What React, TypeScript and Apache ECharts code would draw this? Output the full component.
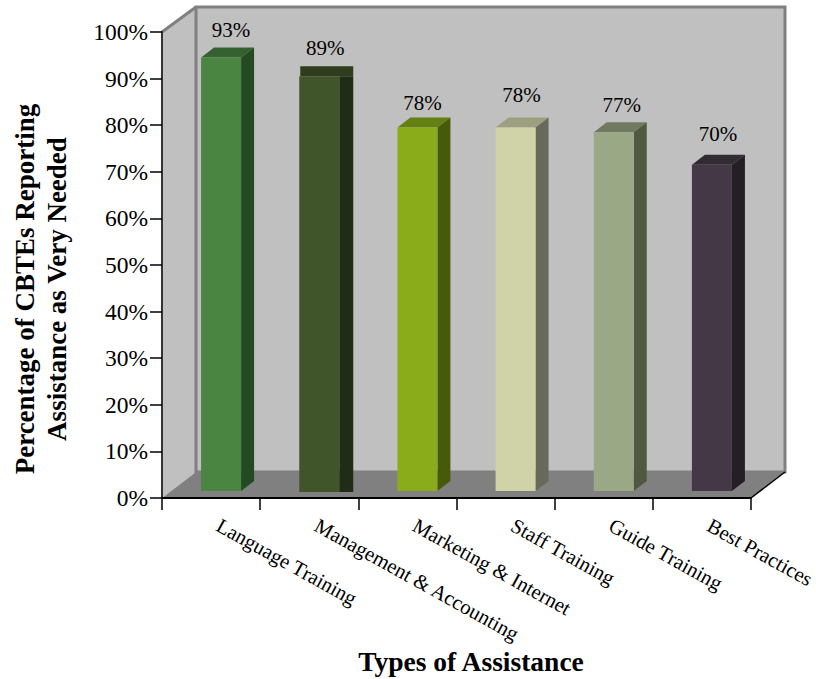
import React, { useEffect, useRef } from "react";
import * as echarts from "echarts";

const categories = [
  "Language Training",
  "Management & Accounting",
  "Marketing & Internet",
  "Staff Training",
  "Guide Training",
  "Best Practices",
];
const veryNeeded = [93, 89, 78, 78, 77, 70];
const yTicks = [0, 10, 20, 30, 40, 50, 60, 70, 80, 90, 100];

const faceColors = ["#4A8541", "#41552B", "#8BAC1A", "#D0D3A8", "#9BA886", "#443746"];
const topColors = ["#356030", "#2F3D1E", "#648012", "#9C9F80", "#717A60", "#332B33"];
const sideColors = ["#234A20", "#202C15", "#475A0A", "#67695A", "#50583F", "#231F25"];
// The second column is drawn with flat, unslanted top and side panels.
const slanted = [true, false, true, true, true, true];
const labelShiftX = [20, 16, 15, 16, 18, 16];
const labelShiftY = [-35, -35, -32, -40, -34, -38];

const SERIF = '"Liberation Serif", "Times New Roman", serif';
const GRID = { left: 162, top: 32, right: 751, bottom: 498 };
const WALL = { dx: 34, dy: -26 };
const BAR_WIDTH = 40;
const DEPTH = { dx: 13, dy: -10 };

function renderColumn(params: any, api: any) {
  const i = api.value(0);
  const value = api.value(1);
  const [cx, yTop] = api.coord([i, value]);
  const [, yBase] = api.coord([i, 0]);
  const x0 = cx + 10 - BAR_WIDTH / 2;
  const x1 = x0 + BAR_WIDTH;
  const top = yTop - 7;
  const bottom = yBase - 7 + (slanted[i] ? 0 : 1);
  const dx = DEPTH.dx;
  const dy = DEPTH.dy;
  const face = {
    type: "rect",
    shape: { x: x0, y: top, width: BAR_WIDTH, height: bottom - top },
    style: { fill: faceColors[i] },
  };
  const panels = slanted[i]
    ? [
        {
          type: "polygon",
          shape: { points: [[x0, top], [x0 + dx, top + dy], [x1 + dx, top + dy], [x1, top]] },
          style: { fill: topColors[i] },
        },
        {
          type: "polygon",
          shape: { points: [[x1, top], [x1 + dx, top + dy], [x1 + dx, bottom + dy], [x1, bottom]] },
          style: { fill: sideColors[i] },
        },
      ]
    : [
        {
          type: "rect",
          shape: { x: x0 + 1, y: top + dy, width: BAR_WIDTH + dx, height: -dy },
          style: { fill: topColors[i] },
        },
        {
          type: "rect",
          shape: { x: x1, y: top, width: dx + 1, height: bottom - top },
          style: { fill: sideColors[i] },
        },
      ];
  return {
    type: "group",
    children: [
      ...panels,
      face,
      {
        type: "text",
        style: {
          text: value + "%",
          x: cx + labelShiftX[i],
          y: yTop + labelShiftY[i],
          align: "center",
          verticalAlign: "middle",
          font: `21px ${SERIF}`,
          fill: "#000",
        },
      },
    ],
  };
}

export default function App() {
  const ref = useRef<HTMLDivElement>(null);

  useEffect(() => {
    const chart = echarts.init(ref.current, undefined, { renderer: "svg" });
    const { left, top, right, bottom } = GRID;
    const { dx, dy } = WALL;
    const wallEdge = { stroke: "#808080", lineWidth: 3 };
    chart.setOption({
      animation: false,
      backgroundColor: "#fff",
      grid: {
        left,
        top,
        width: right - left,
        height: bottom - top,
        outerBoundsMode: "none",
        containLabel: false,
      },
      xAxis: {
        type: "category",
        data: categories,
        boundaryGap: true,
        z: 5,
        axisLine: { show: true, lineStyle: { color: "#000", width: 2 } },
        axisTick: { show: true, length: 12, alignWithLabel: false, lineStyle: { color: "#000", width: 1.5 } },
        axisLabel: {
          interval: 0,
          rotate: -29,
          margin: 22,
          padding: [0, 0, 0, 8],
          fontFamily: SERIF,
          fontSize: 20.7,
          color: "#000",
        },
      },
      yAxis: {
        type: "value",
        min: yTicks[0],
        max: yTicks[yTicks.length - 1],
        interval: 10,
        z: 5,
        splitLine: { show: false },
        axisLine: { show: true, lineStyle: { color: "#333", width: 2 } },
        axisTick: { show: true, length: 12, lineStyle: { color: "#000", width: 1.5 } },
        axisLabel: {
          margin: 14,
          formatter: "{value}%",
          fontFamily: SERIF,
          fontSize: 23.5,
          color: "#000",
        },
      },
      graphic: [
        {
          type: "polygon",
          z: -10,
          shape: { points: [[left, bottom], [left, top], [left + dx, top + dy + 1], [left + dx, bottom + dy]] },
          style: { fill: "#C0C0C0" },
        },
        {
          type: "rect",
          z: -10,
          shape: { x: left + dx, y: top + dy + 1, width: right - left, height: bottom - top - 1 },
          style: { fill: "#C0C0C0", ...wallEdge },
        },
        {
          type: "polyline",
          z: -9,
          shape: { points: [[left, top], [left + dx, top + dy + 1]] },
          style: { fill: "none", ...wallEdge },
        },
        {
          type: "polygon",
          z: -8,
          shape: { points: [[left, bottom], [left + dx, bottom + dy], [right + dx, bottom + dy], [right, bottom]] },
          style: { fill: "#808080" },
        },
        {
          type: "line",
          z: -7,
          shape: { x1: right, y1: bottom, x2: right + dx, y2: bottom + dy },
          style: { stroke: "#000", lineWidth: 1.5 },
        },
        {
          type: "text",
          x: 471,
          y: 661,
          style: {
            text: "Types of Assistance",
            align: "center",
            verticalAlign: "middle",
            font: `bold 27.5px ${SERIF}`,
            fill: "#000",
          },
        },
        {
          type: "text",
          x: 41,
          y: 289,
          rotation: Math.PI / 2,
          style: {
            text: "Percentage of CBTEs Reporting\nAssistance as Very Needed",
            align: "center",
            verticalAlign: "middle",
            lineHeight: 32,
            font: `bold 27px ${SERIF}`,
            fill: "#000",
          },
        },
      ],
      series: [
        {
          type: "custom",
          z: 3,
          clip: false,
          renderItem: renderColumn,
          encode: { x: 0, y: 1 },
          data: veryNeeded.map((v, i) => [i, v]),
        },
      ],
    });
    return () => chart.dispose();
  }, []);

  return (
    <div
      ref={ref}
      style={{ position: "fixed", left: 0, top: 0, width: 816, height: 679 }}
    />
  );
}
